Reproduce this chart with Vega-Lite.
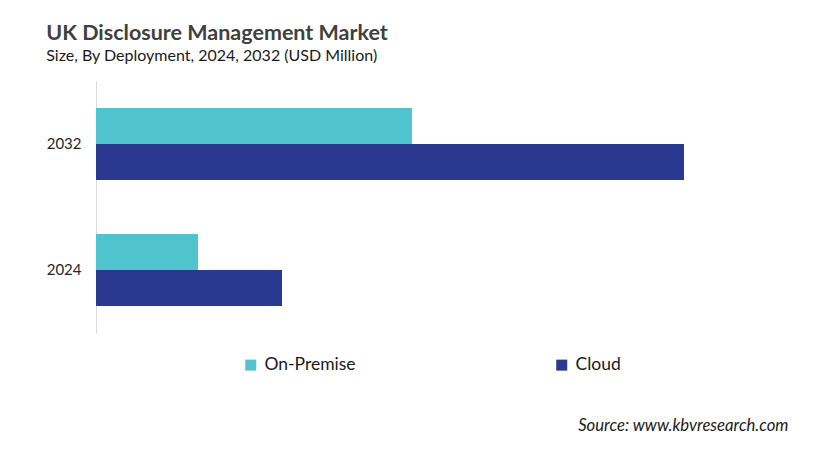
{
  "$schema": "https://vega.github.io/schema/vega-lite/v6.json",
  "width": 692,
  "height": 252,
  "autosize": {"type": "none"},
  "padding": {"left": 96, "top": 81, "right": 29, "bottom": 120},
  "background": "white",
  "data": {
    "values": [
      {"year": "2032", "deployment": "On-Premise", "value": 316},
      {"year": "2032", "deployment": "Cloud", "value": 588},
      {"year": "2024", "deployment": "On-Premise", "value": 102},
      {"year": "2024", "deployment": "Cloud", "value": 186}
    ]
  },
  "title": {
    "text": "UK Disclosure Management Market",
    "subtitle": "Size, By Deployment, 2024, 2032 (USD Million)",
    "anchor": "start",
    "offset": 17,
    "font": "Lato",
    "fontSize": 21.5,
    "fontWeight": "bold",
    "color": "#404040",
    "subtitleFont": "Lato",
    "subtitleFontSize": 16,
    "subtitleColor": "#1a1a1a",
    "subtitlePadding": 4
  },
  "mark": {"type": "bar"},
  "encoding": {
    "y": {
      "field": "year",
      "type": "nominal",
      "sort": ["2032", "2024"],
      "scale": {"paddingInner": 0.4286, "paddingOuter": 0.2143},
      "axis": {
        "title": null,
        "ticks": false,
        "labelPadding": 15,
        "labelFont": "Lato",
        "labelFontSize": 15,
        "labelColor": "#262626",
        "domainColor": "#d9d9d9",
        "domainWidth": 1
      }
    },
    "yOffset": {
      "field": "deployment",
      "type": "nominal",
      "sort": ["On-Premise", "Cloud"],
      "scale": {"paddingInner": 0, "paddingOuter": 0}
    },
    "x": {
      "field": "value",
      "type": "quantitative",
      "scale": {"domain": [0, 692], "nice": false},
      "axis": {
        "labels": false,
        "ticks": false,
        "domain": false,
        "grid": false,
        "title": "Source: www.kbvresearch.com",
        "titleFont": "Lato",
        "titleFontSize": 16.7,
        "titleFontStyle": "italic",
        "titleFontWeight": "normal",
        "titleColor": "#1a1a1a",
        "titleAnchor": "end",
        "titleAlign": "right",
        "titleBaseline": "alphabetic",
        "titleX": 692,
        "titleY": 97
      }
    },
    "color": {
      "field": "deployment",
      "type": "nominal",
      "scale": {"domain": ["On-Premise", "Cloud"], "range": ["#4FC4CF", "#2B388F"]},
      "legend": {
        "title": null,
        "orient": "none",
        "direction": "horizontal",
        "legendX": 146,
        "legendY": 275,
        "symbolType": "square",
        "symbolSize": 121,
        "symbolStrokeWidth": 0,
        "labelFont": "Lato",
        "labelFontSize": 17.5,
        "labelColor": "#1a1a1a",
        "labelOffset": 5,
        "columnPadding": 197
      }
    }
  },
  "config": {"view": {"stroke": null}}
}
